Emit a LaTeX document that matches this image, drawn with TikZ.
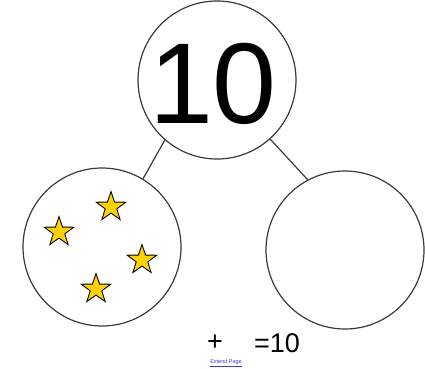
\documentclass[tikz,border=0pt]{standalone}
\usepackage{fontspec}
\setmainfont{Liberation Sans}
\usetikzlibrary{shapes.geometric}
\definecolor{ring}{HTML}{3A3A3A}
\definecolor{staryellow}{HTML}{FFD200}
\definecolor{linkblue}{HTML}{3B3BD6}
\begin{document}
\begin{tikzpicture}[x=1pt,y=-1pt,
  bubble/.style={circle,draw=ring,line width=1.2pt,minimum size=158pt,inner sep=0pt},
  link/.style={draw=ring,line width=1.2pt},
  starshape/.style={star,star points=5,star point ratio=2.55,minimum size=31pt,inner sep=0pt,
    fill=staryellow,draw=black,line width=0.9pt}]
\useasboundingbox[fill=white] (0,0) rectangle (425,368);
\node[bubble] (top) at (217,80) {};
\node[bubble] (left) at (102,247) {};
\node[bubble] (right) at (345,250) {};
\node[font=\fontsize{115}{115}\selectfont,inner sep=0pt] (ten) at (213,84) {10};
\draw[link] (top.229) -- (left.59);
\draw[link] (top.312) -- (right.118);
\node[starshape] (s1) at (111,207) {};
\node[starshape] (s2) at (59,232) {};
\node[starshape] (s3) at (142,260) {};
\node[starshape] (s4) at (96,289) {};
\node[font=\fontsize{27}{27}\selectfont,inner sep=0pt] (plus) at (215,343) {+};
\node[font=\fontsize{27}{27}\selectfont,inner sep=0pt] (eq) at (277,343) {=10};
\node[font=\fontsize{5.5}{6}\selectfont,text=linkblue,inner sep=0pt] (ext) at (226,363) {\underline{Extend Page}};
\end{tikzpicture}
\end{document}
